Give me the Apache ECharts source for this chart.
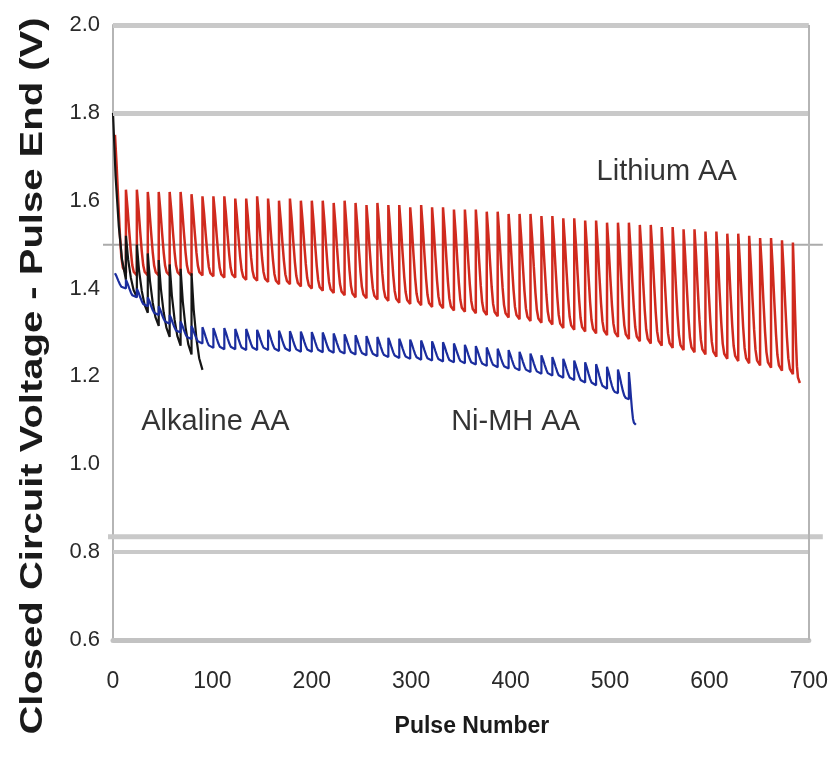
<!doctype html>
<html>
<head>
    <title>Pulse test - AA cells</title>
    <script src="https://cdn.jsdelivr.net/npm/echarts@6/dist/echarts.min.js"></script>
</head>
<style>
    html, body {
        margin: 0;
        padding: 0;
        background: #fff;
    }
    #chart {
        width: 831px;
        height: 761px;
    }
</style>
<body>
<div id="chart"></div>
<script>
  // pulse number at which each rest/pulse cycle starts (one tooth each)
  var cyclePulse = [2, 13, 24, 35, 46, 57, 68, 79, 90, 101, 112, 123, 134, 145, 156, 167, 178, 189, 200, 211,
    222, 233, 244, 255, 266, 277, 288, 299, 310, 321, 332, 343, 354, 365, 376, 387, 398, 409, 420, 431,
    442, 453, 464, 475, 486, 497, 508, 519, 530, 541, 552, 563, 574, 585, 596, 607, 618, 629, 640, 651,
    662, 673, 684];

  // Lithium AA: top of each tooth and the low point it falls to
  var lithiumPeak = [1.75,
    1.625, 1.625, 1.62, 1.62, 1.62, 1.62, 1.615,
    1.61, 1.61, 1.61, 1.605, 1.605, 1.61, 1.605,
    1.60, 1.605, 1.60, 1.60, 1.60, 1.595, 1.60,
    1.595, 1.59, 1.595, 1.59, 1.59, 1.585, 1.59,
    1.585, 1.585, 1.58, 1.58, 1.58, 1.575, 1.575,
    1.57, 1.57, 1.57, 1.565, 1.565, 1.56, 1.56,
    1.555, 1.555, 1.55, 1.55, 1.55, 1.545, 1.545,
    1.54, 1.54, 1.535, 1.535, 1.53, 1.53, 1.525,
    1.525, 1.52, 1.515, 1.515, 1.51, 1.505];
  var lithiumLow = [1.435,
    1.43, 1.43, 1.43, 1.43, 1.43, 1.43, 1.43,
    1.428, 1.425, 1.425, 1.42, 1.418, 1.415, 1.41,
    1.41, 1.405, 1.40, 1.395, 1.39, 1.385, 1.38,
    1.378, 1.375, 1.372, 1.368, 1.365, 1.362, 1.358,
    1.355, 1.35, 1.347, 1.344, 1.34, 1.337, 1.334,
    1.33, 1.326, 1.322, 1.318, 1.31, 1.306, 1.302,
    1.298, 1.294, 1.29, 1.285, 1.28, 1.275, 1.27,
    1.265, 1.26, 1.255, 1.25, 1.245, 1.24, 1.235,
    1.23, 1.225, 1.22, 1.213, 1.205, 1.185];
  var lithiumEnd = 691;

  // Alkaline AA
  var alkalineStart = [0, 13, 24, 35, 46, 57, 68, 79];
  var alkalinePeak = [1.80, 1.52, 1.50, 1.48, 1.465, 1.455, 1.445, 1.435];
  var alkalineLow = [1.42, 1.38, 1.345, 1.315, 1.29, 1.27, 1.25, 1.215];
  var alkalineEnd = 90;

  // Ni-MH AA
  var nimhPeak = [1.435, 1.42, 1.40, 1.38, 1.36, 1.34, 1.325, 1.315, 1.312,
    1.31, 1.31, 1.308, 1.308, 1.306, 1.306, 1.304, 1.303, 1.302, 1.301, 1.30,
    1.298, 1.296, 1.294, 1.292, 1.29, 1.288, 1.286, 1.284, 1.282, 1.28,
    1.278, 1.275, 1.272, 1.269, 1.266, 1.263, 1.26, 1.256, 1.252, 1.248,
    1.244, 1.24, 1.236, 1.232, 1.228, 1.222, 1.216, 1.21];
  var nimhLow = [1.40, 1.38, 1.36, 1.34, 1.32, 1.30, 1.285, 1.275, 1.265,
    1.262, 1.262, 1.26, 1.26, 1.26, 1.258, 1.258, 1.256, 1.256, 1.255, 1.254,
    1.252, 1.25, 1.248, 1.246, 1.244, 1.242, 1.24, 1.238, 1.236, 1.234,
    1.232, 1.23, 1.227, 1.224, 1.221, 1.218, 1.214, 1.21, 1.206, 1.202,
    1.197, 1.192, 1.186, 1.18, 1.172, 1.162, 1.148, 1.09];
  var nimhEnd = 526;

  // how one tooth falls from its top to its low point
  // [share of the cycle, share of the drop left]
  var fastFall = [[0, 1], [0.15, 0.78], [0.3, 0.52], [0.45, 0.28], [0.58, 0.12], [0.72, 0.04], [1, 0]];
  var slowFall = [[0, 1], [0.2, 0.62], [0.45, 0.32], [0.7, 0.12], [1, 0]];

  var xTicks = [0, 100, 200, 300, 400, 500, 600, 700];
  var yTicks = [0.6, 0.8, 1.0, 1.2, 1.4, 1.6, 1.8, 2.0];

  var curveNames = ['Lithium AA', 'Alkaline AA', 'Ni-MH AA'];
  var curveNotes = [[557, 1.666], [103, 1.097], [405, 1.097]];

  // horizontal rules in the original plot: volts
  var heavyRules = [2.0, 1.8, 0.8];
  var lightRules = [1.5, 0.835];

  function buildTeeth(starts, peaks, lows, endPulse, shape) {
    var pts = [];
    for (var i = 0; i < starts.length; i++) {
      var x0 = starts[i];
      var x1 = i + 1 < starts.length ? starts[i + 1] : endPulse;
      for (var j = 0; j < shape.length; j++) {
        pts.push([x0 + shape[j][0] * (x1 - x0), lows[i] + shape[j][1] * (peaks[i] - lows[i])]);
      }
    }
    return pts;
  }

  var lithium = buildTeeth(cyclePulse, lithiumPeak, lithiumLow, lithiumEnd, fastFall);
  var alkaline = buildTeeth(alkalineStart, alkalinePeak, alkalineLow, alkalineEnd, slowFall);
  var nimh = buildTeeth(cyclePulse.slice(0, nimhPeak.length), nimhPeak, nimhLow, nimhEnd, fastFall);

  var font = '"Liberation Sans", Arial, sans-serif';
  var xMax = xTicks[xTicks.length - 1];

  var ruleLines = heavyRules.map(function (v) {
    return [
      { coord: [0, v], lineStyle: { width: v === 0.8 ? 4 : 5, color: '#c9c9c9', type: 'solid' } },
      { coord: [xMax, v] }
    ];
  });
  ruleLines.push([
    { coord: [xMax, yTicks[0]], lineStyle: { width: 2, color: '#b5b5b5', type: 'solid' } },
    { coord: [xMax, yTicks[yTicks.length - 1]] }
  ]);

  var myChart = echarts.init(document.getElementById('chart'));

  myChart.setOption({
    animation: false,
    backgroundColor: '#fff',
    grid: {
      left: 113,
      right: 22,
      top: 25,
      bottom: 121
    },
    xAxis: {
      type: 'value',
      min: xTicks[0],
      max: xMax,
      interval: 100,
      name: 'Pulse Number',
      nameLocation: 'middle',
      nameGap: 49,
      nameTextStyle: {
        fontFamily: font,
        fontWeight: 'bold',
        fontSize: 23,
        color: '#1a1a1a',
        padding: [0, 0, 0, 22]
      },
      axisLine: { show: true, lineStyle: { color: '#c2c2c2', width: 5 } },
      axisTick: { show: false },
      splitLine: { show: false },
      axisLabel: {
        margin: 22,
        fontFamily: font,
        fontSize: 23,
        color: '#2a2a2a'
      }
    },
    yAxis: {
      type: 'value',
      min: yTicks[0],
      max: yTicks[yTicks.length - 1],
      interval: 0.2,
      axisLine: { show: true, lineStyle: { color: '#b5b5b5', width: 2 } },
      axisTick: { show: false },
      splitLine: { show: false },
      axisLabel: {
        margin: 13,
        fontFamily: font,
        fontSize: 22,
        color: '#2a2a2a',
        formatter: function (v) { return v.toFixed(1); }
      }
    },
    series: [
      {
        name: 'rules',
        type: 'line',
        data: [],
        silent: true,
        markLine: {
          silent: true,
          symbol: 'none',
          label: { show: false },
          data: ruleLines
        }
      },
      {
        name: curveNames[0],
        type: 'line',
        data: lithium,
        showSymbol: false,
        lineStyle: { color: '#d02a1e', width: 2.5 }
      },
      {
        name: curveNames[1],
        type: 'line',
        data: alkaline,
        showSymbol: false,
        lineStyle: { color: '#151515', width: 2.2 }
      },
      {
        name: curveNames[2],
        type: 'line',
        data: nimh,
        showSymbol: false,
        lineStyle: { color: '#1b2d9e', width: 2.2 }
      },
      {
        name: 'notes',
        type: 'scatter',
        symbolSize: 0,
        silent: true,
        data: curveNotes.map(function (p, i) {
          return { value: p, name: curveNames[i] };
        }),
        label: {
          show: true,
          position: 'inside',
          formatter: '{b}',
          fontFamily: font,
          fontSize: 29,
          color: '#000',
          textBorderWidth: 0
        }
      }
    ]
  });

  // thin rules that run a little past the plot edges, placed through the axes
  var toPx = function (pt) {
    return myChart.convertToPixel({ xAxisIndex: 0, yAxisIndex: 0 }, pt);
  };
  var extras = lightRules.map(function (v, i) {
    var a = toPx([0, v]);
    var b = toPx([xMax, v]);
    return {
      type: 'line',
      silent: true,
      z: i === 0 ? 1 : 3,
      shape: { x1: a[0] - (i === 0 ? 10 : 5), y1: a[1], x2: b[0] + 14, y2: b[1] },
      style: { stroke: i === 0 ? '#ababab' : '#c9c9c9', lineWidth: i === 0 ? 2 : 5 }
    };
  });
  extras.push({
    type: 'text',
    x: 33,
    y: 376,
    rotation: Math.PI / 2,
    scaleX: 1.25,
    style: {
      text: 'Closed Circuit Voltage - Pulse End (V)',
      font: 'bold 32px ' + font,
      fill: '#1a1a1a',
      align: 'center',
      verticalAlign: 'middle'
    }
  });
  myChart.setOption({ graphic: extras });
</script>
</body>
</html>
